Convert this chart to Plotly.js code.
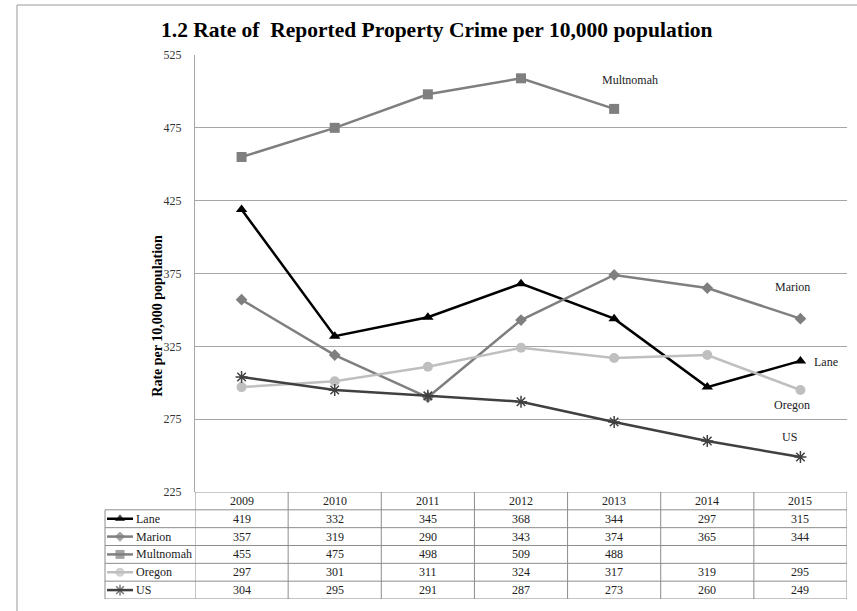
<!DOCTYPE html>
<html>
<head>
<meta charset="utf-8">
<script src="https://cdn.plot.ly/plotly-3.0.1.min.js"></script>
<style>html,body{margin:0;padding:0;background:#fff;}#chart{width:857px;height:611px;}</style>
</head>
<body>
<div id="chart"></div>
<script>
var years = ["2009","2010","2011","2012","2013","2014","2015"];
var seriesNames = ["Lane","Marion","Multnomah","Oregon","US"];
var lane = [419,332,345,368,344,297,315];
var marion = [357,319,290,343,374,365,344];
var multnomah = [455,475,498,509,488,null,null];
var oregon = [297,301,311,324,317,319,295];
var us = [304,295,291,287,273,260,249];
var yTicks = [225,275,325,375,425,475,525];

var seriesValues = [lane, marion, multnomah, oregon, us];
var colors = ["#000000","#7f7f7f","#7f7f7f","#bfbfbf","#404040"];
var symbols = ["triangle-up","diamond","square","circle","asterisk-open"];
var msizes = [10,9,10,10,10];
var labelPos = [[6.27,314],[5.92,366],[4.17,508],[5.91,285],[5.88,263]];

var FONT = "'Liberation Serif', 'Times New Roman', serif";
var traces = [];
seriesValues.forEach(function(vals, s){
  traces.push({
    x: years, y: vals, type: "scatter", mode: "lines+markers",
    name: seriesNames[s], showlegend: false, connectgaps: false,
    line: {color: colors[s], width: 2.5},
    marker: {symbol: symbols[s], size: msizes[s], color: colors[s],
             line: {color: colors[s], width: s===4 ? 1.5 : 0}},
    xaxis: "x", yaxis: "y", hoverinfo: "skip"
  });
});
// legend glyphs in the table
seriesNames.forEach(function(n, s){
  var row = 4.5 - s;
  traces.push({
    x: [2, 15, 28], y: [row, row, row], type: "scatter", mode: "lines+markers",
    showlegend: false, hoverinfo: "skip",
    line: {color: colors[s], width: 2.5},
    marker: {symbol: symbols[s], size: [0, msizes[s]-1, 0], color: colors[s],
             line: {color: colors[s], width: s===4 ? 1.5 : 0}},
    xaxis: "x2", yaxis: "y2"
  });
});

var shapes = [];
var annotations = [];
var gridC = "#a6a6a6";
var tblC = "#8c8c8c";
for (var r = 0; r <= 5; r++) {
  shapes.push({type:"line", xref:"paper", yref:"y2", x0:0, x1:1, y0:r, y1:r, line:{color:tblC, width:1}});
}
shapes.push({type:"line", xref:"x", yref:"y2", x0:-0.5, x1:6.5, y0:6, y1:6, line:{color:tblC, width:1}});
shapes.push({type:"line", xref:"paper", yref:"y2", x0:0, x1:0, y0:0, y1:5, line:{color:tblC, width:1}});
for (var c = 0; c <= years.length; c++) {
  shapes.push({type:"line", xref:"x", yref:"y2", x0:c-0.5, x1:c-0.5, y0:0, y1:6, line:{color:tblC, width:1}});
}
// outer border of chart
shapes.push({type:"line", xref:"paper", yref:"paper", x0:-0.1186, x1:-0.1186, y0:-0.05, y1:1.0919, line:{color:"#9a9a9a", width:1}});
shapes.push({type:"line", xref:"paper", yref:"paper", x0:-0.1186, x1:1.05, y0:1.0919, y1:1.0919, line:{color:"#9a9a9a", width:1}});

var cellFont = {family: FONT, size: 12, color: "#222"};
years.forEach(function(yr, i){
  annotations.push({xref:"x", yref:"y2", x:i, y:5.5, text:yr, showarrow:false, font:cellFont});
});
seriesValues.forEach(function(vals, s){
  var row = 4.5 - s;
  vals.forEach(function(v, i){
    if (v !== null) annotations.push({xref:"x", yref:"y2", x:i, y:row, text:String(v), showarrow:false, font:cellFont});
  });
  annotations.push({xref:"x2", yref:"y2", x:28.5, y:row, text:seriesNames[s], showarrow:false, xanchor:"left", font:cellFont});
  annotations.push({xref:"x", yref:"y", x:labelPos[s][0], y:labelPos[s][1], text:seriesNames[s], showarrow:false,
                    font:{family: FONT, size: 12, color: "#222"}});
});
// y axis title
annotations.push({xref:"paper", yref:"paper", x:0.058, y:0.52, text:"<b>Rate per 10,000 population</b>",
                  textangle:-90, showarrow:false, font:{family: FONT, size: 14, color:"#000"}});
// title
annotations.push({xref:"paper", yref:"paper", x:0.447, y:1.046, yanchor:"middle", text:"<b>1.2 Rate of  Reported Property Crime per 10,000 population</b>",
                  showarrow:false, font:{family: FONT, size: 21.5, color:"#000"}});

var layout = {
  width: 857, height: 611,
  margin: {l:105, r:10, t:55, b:12},
  paper_bgcolor: "#fff", plot_bgcolor: "#fff",
  showlegend: false,
  xaxis: {domain:[0.1213, 1], type:"category", range:[-0.5, 6.5], showticklabels:false,
          showgrid:false, zeroline:false, showline:false, ticks:""},
  yaxis: {domain:[0.1967, 1], range:[225, 525], tickvals: yTicks, ticktext: yTicks.map(String),
          showgrid:true, gridcolor:gridC, gridwidth:1, zeroline:false,
          showline:true, linecolor:gridC, linewidth:1, ticks:"", ticklabelstandoff: 10,
          tickfont:{family: FONT, size: 12, color:"#333"}},
  xaxis2: {domain:[0, 0.1213], range:[0, 90], visible:false, fixedrange:true, anchor:"y2"},
  yaxis2: {domain:[0, 0.1967], range:[0, 6], visible:false, fixedrange:true, anchor:"x2"},
  shapes: shapes,
  annotations: annotations
};
Plotly.newPlot("chart", traces, layout, {staticPlot:true, displayModeBar:false});
</script>
</body>
</html>
